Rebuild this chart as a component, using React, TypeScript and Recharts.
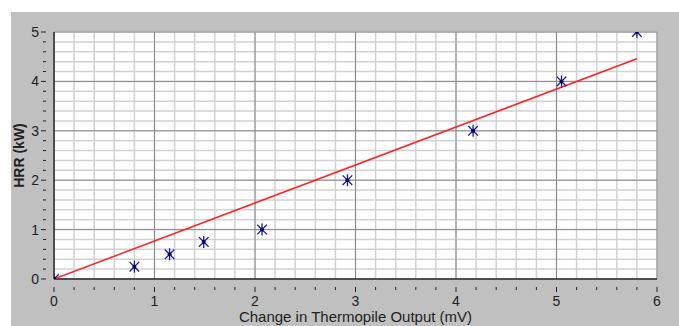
import { ScatterChart, Scatter, XAxis, YAxis, CartesianGrid, ReferenceLine, Label } from 'recharts';

const thermopileMv = [0, 0.8, 1.15, 1.49, 2.07, 2.92, 4.17, 5.05, 5.8];
const hrrKw = [0, 0.25, 0.5, 0.75, 1.0, 2.0, 3.0, 4.0, 5.0];
const fitX = [0, 5.8];
const fitY = [0, 4.46];

const majorX = [0, 1, 2, 3, 4, 5, 6];
const majorY = [0, 1, 2, 3, 4, 5];
const minorX = Array.from({ length: 31 }, (_, i) => +(i * 0.2).toFixed(1));
const minorY = Array.from({ length: 26 }, (_, i) => +(i * 0.2).toFixed(1));

const points = thermopileMv.map((x, i) => ({ x, y: hrrKw[i] }));
const fitLine = fitX.map((x, i) => ({ x, y: fitY[i] }));

const isMajor = (v: number) => Math.abs(v - Math.round(v)) < 1e-6;
const font = 'Liberation Sans, Arial, sans-serif';

const Asterisk = (props: any) => {
  const { cx, cy } = props;
  const r = 6;
  const d = r * 0.8;
  return (
    <g stroke="#1c1c8c" strokeWidth={1.3}>
      <line x1={cx} y1={cy - r} x2={cx} y2={cy + r} />
      <line x1={cx - d} y1={cy - d} x2={cx + d} y2={cy + d} />
      <line x1={cx - d} y1={cy + d} x2={cx + d} y2={cy - d} />
      <circle cx={cx} cy={cy} r={2} fill="#000070" stroke="none" />
    </g>
  );
};

const XTick = (props: any) => {
  const { x, y, payload } = props;
  const major = isMajor(payload.value);
  return (
    <g>
      <line x1={x} y1={y} x2={x} y2={y + (major ? 5 : 3)} stroke="#222" strokeWidth={1} />
      {major && (
        <text x={x} y={y + 19} textAnchor="middle" fontSize={14} fill="#222" fontFamily={font}>
          {Math.round(payload.value)}
        </text>
      )}
    </g>
  );
};

const YTick = (props: any) => {
  const { x, y, payload } = props;
  const major = isMajor(payload.value);
  return (
    <g>
      <line x1={x} y1={y} x2={x - (major ? 5 : 3)} y2={y} stroke="#222" strokeWidth={1} />
      {major && (
        <text x={x - 7} y={y + 5} textAnchor="end" fontSize={14} fill="#222" fontFamily={font}>
          {Math.round(payload.value)}
        </text>
      )}
    </g>
  );
};

export default function App() {
  return (
    <div style={{ position: 'fixed', left: 0, top: 0, width: 679, height: 326, background: '#fff' }}>
      <div style={{ position: 'absolute', left: 11, top: 12, width: 668, height: 314, background: '#c0c0c0' }}>
        <ScatterChart width={668} height={314} margin={{ top: 20, right: 22, left: 0, bottom: 0 }}>
          <CartesianGrid fill="#ffffff" stroke="#d2d2d2" strokeWidth={1.5} />
          {majorX.slice(1).map((v) => (
            <ReferenceLine key={'vx' + v} x={v} stroke="#8a8a8a" strokeWidth={1} />
          ))}
          {majorY.slice(1).map((v) => (
            <ReferenceLine key={'hy' + v} y={v} stroke="#8a8a8a" strokeWidth={1} />
          ))}
          <XAxis
            type="number"
            dataKey="x"
            domain={[0, 6]}
            ticks={minorX}
            interval={0}
            allowDataOverflow
            height={47}
            tickLine={false}
            tick={<XTick />}
            axisLine={{ stroke: '#222', strokeWidth: 1.5 }}
          >
            <Label
              value="Change in Thermopile Output (mV)"
              position="insideBottom"
              offset={4}
              style={{ fontSize: 15, fill: '#222', fontFamily: font }}
            />
          </XAxis>
          <YAxis
            type="number"
            dataKey="y"
            domain={[0, 5]}
            ticks={minorY}
            interval={0}
            allowDataOverflow
            width={43}
            tickLine={false}
            tick={<YTick />}
            axisLine={{ stroke: '#222', strokeWidth: 1.5 }}
          >
            <Label
              value="HRR (kW)"
              angle={-90}
              position="insideLeft"
              offset={8}
              style={{ fontSize: 14, fontWeight: 'bold', fill: '#222', fontFamily: font, textAnchor: 'middle' }}
            />
          </YAxis>
          <Scatter
            data={fitLine}
            line={{ stroke: '#ff2020', strokeWidth: 1.5 }}
            shape={() => <g />}
            isAnimationActive={false}
          />
          <Scatter data={points} shape={<Asterisk />} isAnimationActive={false} />
        </ScatterChart>
      </div>
    </div>
  );
}
